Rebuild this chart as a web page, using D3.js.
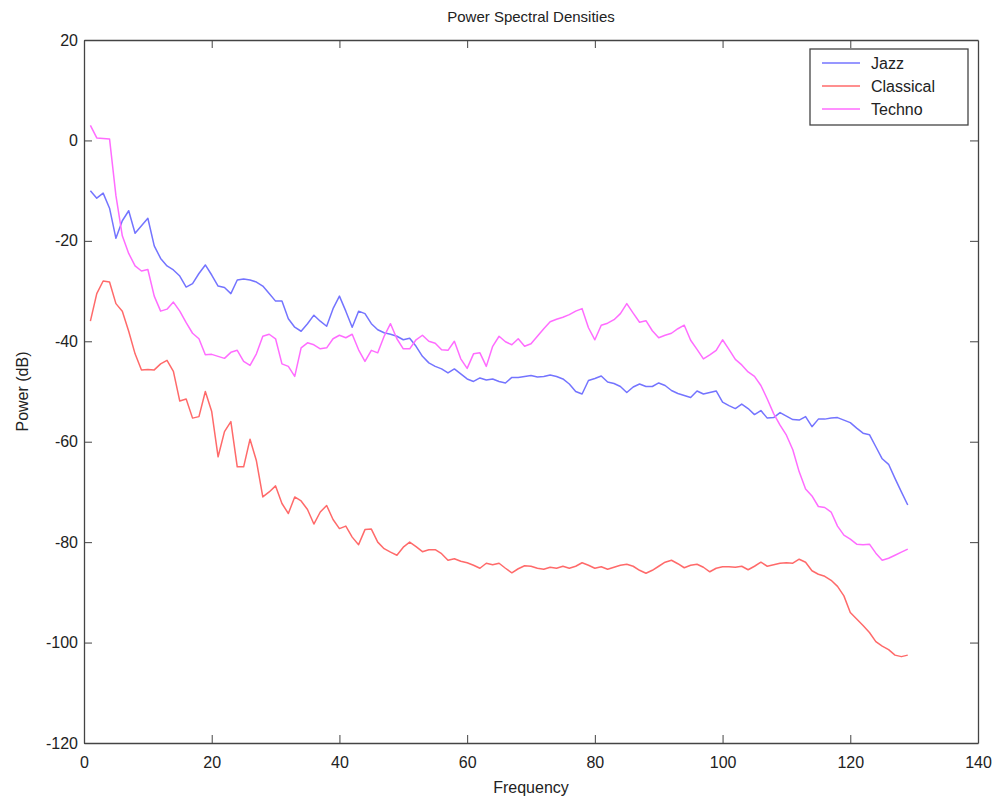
<!DOCTYPE html>
<html>
<head>
<meta charset="utf-8">
<script src="https://cdn.jsdelivr.net/npm/d3@7"></script>
<style>
  body { margin: 0; background: #fff; }
  svg { font-family: "Liberation Sans", Arial, sans-serif; }
</style>
</head>
<body>
<div id="chart"></div>
<script>
// frequency bins 1..129
const freq = d3.range(1, 130);

const jazz = [
  -10, -11.5, -10.5, -13.5, -19.5, -16, -14, -18.5, -17, -15.5,
  -21, -23.5, -25, -25.8, -27, -29.2, -28.5, -26.5, -24.8, -26.8,
  -29, -29.3, -30.5, -27.8, -27.6, -27.8, -28.2, -29, -30.5, -32,
  -32, -35.5, -37.2, -38, -36.5, -34.8, -36, -37, -33.5, -31,
  -34, -37.2, -34, -34.5, -36.5, -37.7, -38.3, -38.6, -39, -39.7,
  -39.4, -41, -43, -44.3, -45, -45.5, -46.3, -45.5, -46.5, -47.5,
  -48, -47.3, -47.7, -47.5, -48, -48.3, -47.2, -47.2, -47, -46.8,
  -47.1, -47, -46.7, -47, -47.5, -48.5, -50, -50.5, -47.8, -47.4,
  -46.9, -48.1, -48.4, -49, -50.2, -49.1, -48.5, -49, -49, -48.3,
  -48.8, -49.8, -50.4, -50.8, -51.2, -49.9, -50.5, -50.2, -49.9, -52.1,
  -52.8, -53.4, -52.5, -53.4, -54.6, -53.8, -55.3, -55.2, -54.2, -54.9,
  -55.6, -55.7, -55, -57, -55.5, -55.5, -55.3, -55.2, -55.7, -56.2,
  -57.3, -58.3, -58.6, -61, -63.4, -64.5, -67.3, -70, -72.6
];

const classical = [
  -36, -30.5, -28, -28.2, -32.5, -34, -38, -42.5, -45.7, -45.6,
  -45.7, -44.5, -43.8, -46, -51.9, -51.5, -55.3, -55, -50, -54,
  -63, -58, -56, -65, -65, -59.5, -63.8, -71, -70, -68.8,
  -72.3, -74.3, -71, -71.8, -73.5, -76.4, -74, -72.7, -75.5, -77.3,
  -76.8, -79, -80.5, -77.5, -77.4, -80, -81.3, -82, -82.6, -81,
  -80, -80.9, -81.9, -81.5, -81.5, -82.3, -83.6, -83.3, -83.8, -84.1,
  -84.6, -85.2, -84.2, -84.5, -84.2, -85.2, -86.1, -85.3, -84.7, -84.8,
  -85.2, -85.4, -85, -85.2, -84.8, -85.2, -84.8, -84.1, -84.6, -85.2,
  -84.9, -85.4, -85, -84.6, -84.4, -84.8, -85.6, -86.2, -85.6, -84.8,
  -84, -83.6, -84.3, -85.1, -84.6, -84.4, -85, -85.9, -85.2, -84.9,
  -84.9, -85, -84.8, -85.5, -84.8, -84, -84.8, -84.5, -84.2, -84.1,
  -84.2, -83.4, -84, -85.7, -86.4, -86.8, -87.6, -88.8, -90.7, -94,
  -95.3, -96.6, -98, -99.8, -100.7, -101.4, -102.5, -102.8, -102.5
];

const techno = [
  3, 0.5, 0.4, 0.3, -11, -19, -22.5, -25, -26, -25.7,
  -31, -34, -33.6, -32.2, -34, -36.3, -38.4, -39.5, -42.7, -42.6,
  -43, -43.4, -42.2, -41.8, -44, -44.8, -42.5, -39, -38.6, -39.5,
  -44.5, -45, -47, -41.3, -40.3, -40.7, -41.5, -41.3, -39.5, -38.8,
  -39.3, -38.6, -41.7, -44, -41.8, -42.3, -39, -36.5, -39.5, -41.5,
  -41.5, -39.7, -38.8, -40, -40.4, -41.7, -41.8, -40, -43.5, -45.4,
  -42.5, -42.3, -45, -41, -39, -40.1, -40.7, -39.5, -41, -40.5,
  -39, -37.5, -36.1, -35.6, -35.2, -34.7, -34, -33.5, -37.3, -39.7,
  -36.8, -36.4, -35.7, -34.5, -32.5, -34.4, -36.2, -35.9, -37.9, -39.3,
  -38.8, -38.4, -37.5, -36.8, -39.8, -41.6, -43.5, -42.7, -41.8, -39.7,
  -41.6, -43.6, -44.7, -46.1, -47, -48.8, -51.5, -54.4, -56.7, -58.7,
  -61.6, -66, -69.4, -70.8, -72.9, -73.1, -74, -76.8, -78.6, -79.4,
  -80.4, -80.5, -80.4, -82.2, -83.6, -83.2, -82.6, -82, -81.4
];

const seriesNames = ["Jazz", "Classical", "Techno"];
const seriesColors = ["#7474ff", "#ff6a6a", "#ff6cff"];
const xTicks = [0, 20, 40, 60, 80, 100, 120, 140];
const yTicks = [20, 0, -20, -40, -60, -80, -100, -120];

const width = 998, height = 802;
const margin = { top: 40, right: 20, bottom: 59, left: 84 };
const iw = width - margin.left - margin.right;
const ih = height - margin.top - margin.bottom;

const x = d3.scaleLinear().domain([0, 140]).range([0, iw]);
const y = d3.scaleLinear().domain([-120, 20]).range([ih, 0]);

const svg = d3.select("#chart").append("svg")
  .attr("width", width)
  .attr("height", height);

const g = svg.append("g").attr("transform", `translate(${margin.left},${margin.top})`);

const axisColor = "#444";
const tickLen = 8;
const plain = d => String(d); // plain hyphen for negatives, like the original

// lines
const line = d3.line().x((d, i) => x(freq[i])).y(d => y(d));
[jazz, classical, techno].forEach((vals, k) => {
  g.append("path")
    .datum(vals)
    .attr("fill", "none")
    .attr("stroke", seriesColors[k])
    .attr("stroke-width", 1.5)
    .attr("stroke-linejoin", "round")
    .attr("d", line);
});

// bottom / left axes with inward ticks
const xAxis = g.append("g").attr("transform", `translate(0,${ih})`)
  .call(d3.axisBottom(x).tickValues(xTicks).tickFormat(plain).tickSizeInner(-tickLen).tickSizeOuter(0).tickPadding(14));
const yAxis = g.append("g")
  .call(d3.axisLeft(y).tickValues(yTicks).tickFormat(plain).tickSizeInner(-tickLen).tickSizeOuter(0).tickPadding(6));
// top / right axes, ticks only
const xTop = g.append("g")
  .call(d3.axisTop(x).tickValues(xTicks).tickSizeInner(-tickLen).tickSizeOuter(0).tickFormat(""));
const yRight = g.append("g").attr("transform", `translate(${iw},0)`)
  .call(d3.axisRight(y).tickValues(yTicks).tickSizeInner(-tickLen).tickSizeOuter(0).tickFormat(""));

[xAxis, yAxis, xTop, yRight].forEach(a => {
  a.selectAll("line").attr("stroke", axisColor);
  a.select(".domain").attr("stroke", axisColor).attr("stroke-width", 1.3);
  a.selectAll("text").attr("fill", "#222").style("font-size", "16px");
});
// the ticks at both ends sit on the frame, drop the ones that would double up
xTop.selectAll(".tick").filter(d => d === 0 || d === 140).remove();
yRight.selectAll(".tick").filter(d => d === 20 || d === -120).remove();

// title and labels
svg.append("text")
  .attr("x", margin.left + iw / 2).attr("y", 22)
  .attr("text-anchor", "middle")
  .style("font-size", "15px").attr("fill", "#222")
  .text("Power Spectral Densities");

svg.append("text")
  .attr("x", margin.left + iw / 2).attr("y", 793)
  .attr("text-anchor", "middle")
  .style("font-size", "16px").attr("fill", "#222")
  .text("Frequency");

svg.append("text")
  .attr("transform", `translate(28,${margin.top + ih / 2}) rotate(-90)`)
  .attr("text-anchor", "middle")
  .style("font-size", "16px").attr("fill", "#222")
  .text("Power (dB)");

// legend
const legend = svg.append("g").attr("transform", "translate(810,49)");
legend.append("rect")
  .attr("width", 158).attr("height", 76)
  .attr("fill", "#fff").attr("stroke", axisColor).attr("stroke-width", 1.3);
seriesNames.forEach((name, k) => {
  const ly = 14 + k * 23;
  legend.append("line")
    .attr("x1", 12).attr("x2", 50).attr("y1", ly).attr("y2", ly)
    .attr("stroke", seriesColors[k]).attr("stroke-width", 1.5);
  legend.append("text")
    .attr("x", 61).attr("y", ly).attr("dy", "0.35em")
    .style("font-size", "16px").attr("fill", "#222")
    .text(name);
});
</script>
</body>
</html>
